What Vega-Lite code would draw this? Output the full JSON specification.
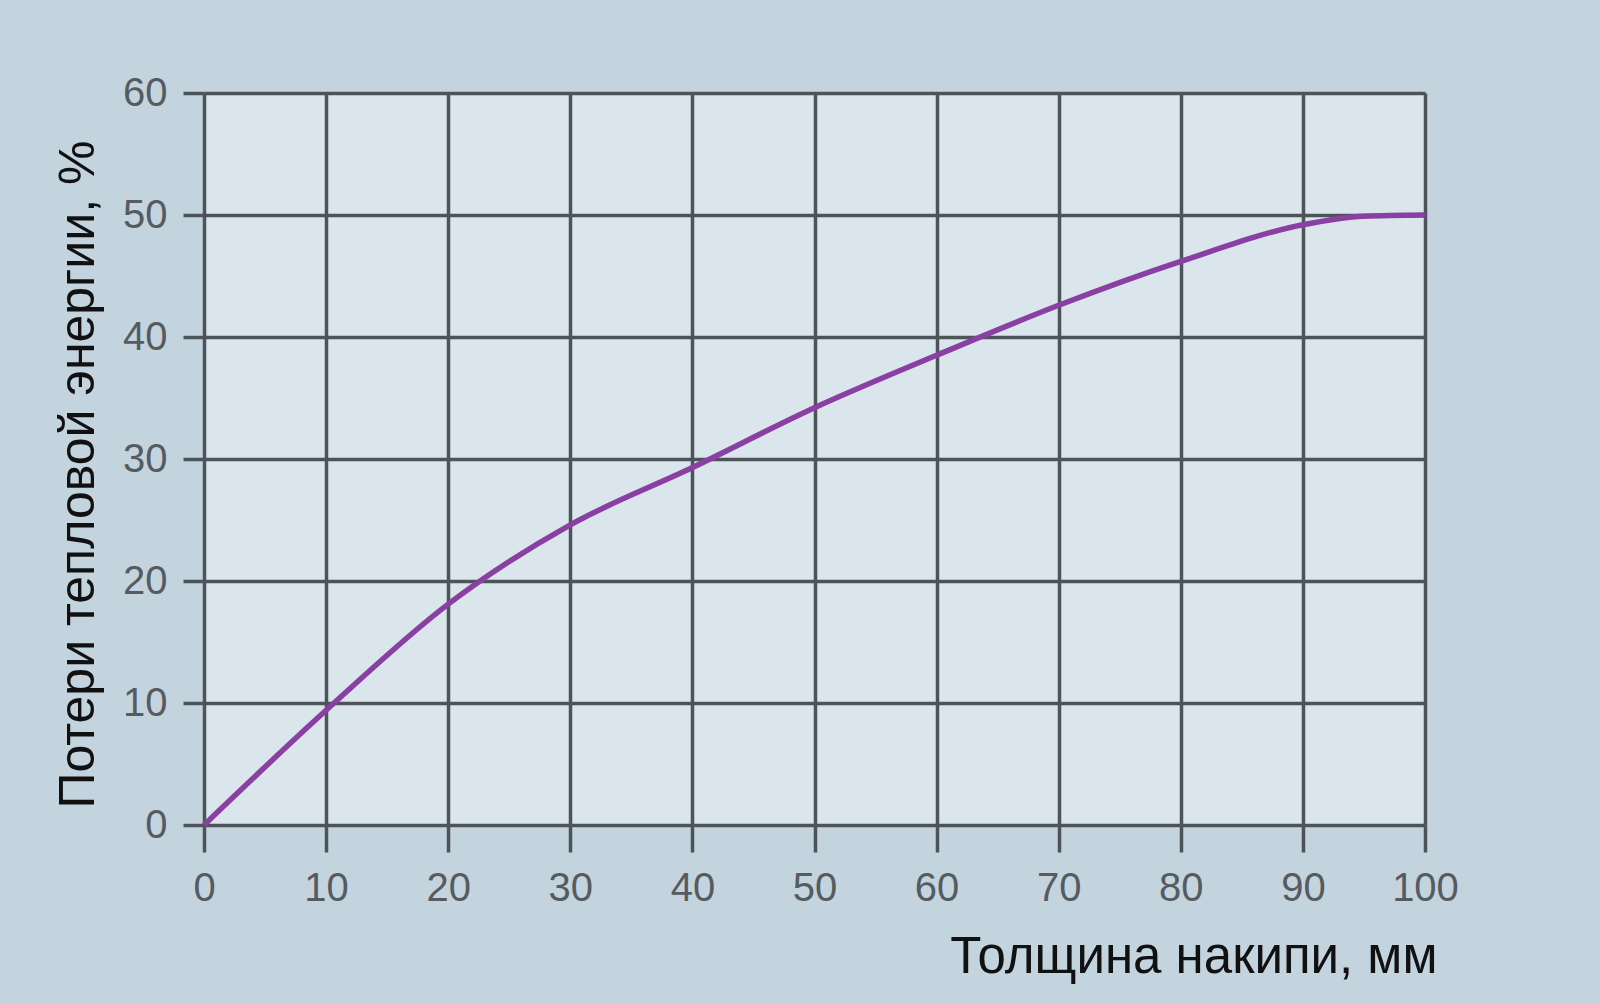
{
  "$schema": "https://vega.github.io/schema/vega-lite/v6.json",
  "width": 1221,
  "height": 732,
  "autosize": {"type": "none"},
  "padding": {"left": 204, "top": 93, "right": 175, "bottom": 179},
  "background": "#c3d4df",
  "view": {"fill": "#dae5ec", "stroke": null},
  "data": {
    "values": [
      {"x": 0, "y": 0},
      {"x": 10, "y": 9.4},
      {"x": 20, "y": 18.1},
      {"x": 30, "y": 24.6},
      {"x": 40, "y": 29.3},
      {"x": 50, "y": 34.2},
      {"x": 60, "y": 38.5},
      {"x": 70, "y": 42.6},
      {"x": 80, "y": 46.2},
      {"x": 90, "y": 49.2},
      {"x": 95, "y": 49.9},
      {"x": 100, "y": 50}
    ]
  },
  "mark": {"type": "line", "interpolate": "monotone", "color": "#8a3fa3", "strokeWidth": 5.5},
  "encoding": {
    "x": {
      "field": "x", "type": "quantitative",
      "scale": {"domain": [0, 100], "nice": false, "zero": true},
      "axis": {
        "values": [0, 10, 20, 30, 40, 50, 60, 70, 80, 90, 100],
        "title": "Толщина накипи, мм",
        "titleFont": "Liberation Sans", "titleFontSize": 51, "titleFontWeight": "normal", "titleColor": "#111111",
        "titleAnchor": "end", "titleAlign": "right", "titleX": 1233, "titleY": 147, "titleBaseline": "alphabetic",
        "labelFont": "Liberation Sans", "labelFontSize": 40, "labelColor": "#565b60",
        "labelPadding": 16, "labelFlush": false,
        "tickSize": 27, "tickColor": "#4d5459", "tickWidth": 3.5,
        "domain": false,
        "grid": true, "gridColor": "#4d5459", "gridWidth": 3.5, "gridOpacity": 1
      }
    },
    "y": {
      "field": "y", "type": "quantitative",
      "scale": {"domain": [0, 60], "nice": false},
      "axis": {
        "values": [0, 10, 20, 30, 40, 50, 60],
        "title": "Потери тепловой энергии, %",
        "titleFont": "Liberation Sans", "titleFontSize": 50, "titleFontWeight": "normal", "titleColor": "#111111",
        "titleAngle": -90, "titleAlign": "center", "titleBaseline": "middle", "titleX": -126, "titleY": 381,
        "labelFont": "Liberation Sans", "labelFontSize": 40, "labelColor": "#565b60",
        "labelPadding": 16,
        "tickSize": 21, "tickColor": "#4d5459", "tickWidth": 3.5,
        "domain": false,
        "grid": true, "gridColor": "#4d5459", "gridWidth": 3.5, "gridOpacity": 1
      }
    }
  }
}
